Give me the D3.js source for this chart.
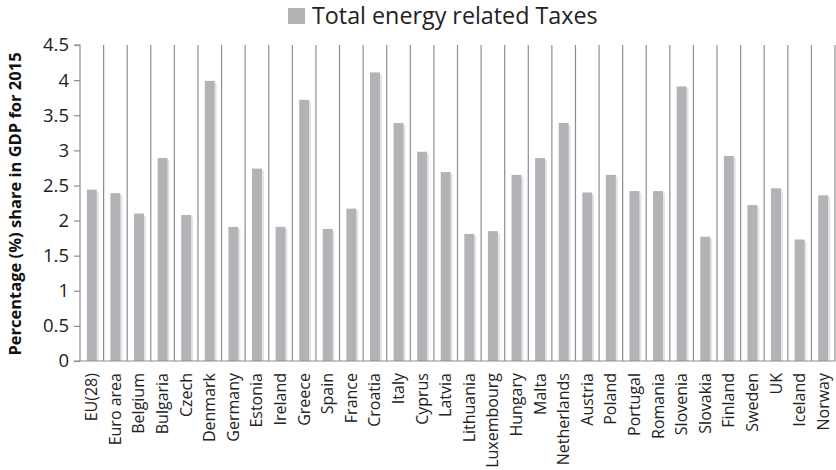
<!DOCTYPE html>
<html>
<head>
<meta charset="utf-8">
<script src="https://cdn.jsdelivr.net/npm/d3@7"></script>
<style>
  html, body { margin: 0; padding: 0; background: #fff; }
  svg { display: block; font-family: "Open Sans", sans-serif; }
</style>
</head>
<body>
<svg id="chart" width="836" height="470"></svg>
<script>
// Energy-related taxes as a share of GDP, 2015
const countries = ["EU(28)", "Euro area", "Belgium", "Bulgaria", "Czech", "Denmark", "Germany",
  "Estonia", "Ireland", "Greece", "Spain", "France", "Croatia", "Italy", "Cyprus", "Latvia",
  "Lithuania", "Luxembourg", "Hungary", "Malta", "Netherlands", "Austria", "Poland", "Portugal",
  "Romania", "Slovenia", "Slovakia", "Finland", "Sweden", "UK", "Iceland", "Norway"];
const taxShare = [2.44, 2.39, 2.10, 2.89, 2.08, 3.99, 1.91,
  2.74, 1.91, 3.72, 1.88, 2.17, 4.11, 3.39, 2.98, 2.69,
  1.81, 1.85, 2.65, 2.89, 3.39, 2.40, 2.65, 2.42,
  2.42, 3.91, 1.77, 2.92, 2.22, 2.46, 1.73, 2.36];
const yTicks = [0, 0.5, 1, 1.5, 2, 2.5, 3, 3.5, 4, 4.5];
const seriesName = "Total energy related Taxes";
const yTitle = "Percentage (%) share in GDP for 2015";

const svg = d3.select("#chart");
const plot = { left: 80, right: 835, top: 45, bottom: 361 };
const barColor = "#b2b3b7";
const gridColor = "#8e8e8e";

const x = d3.scaleBand().domain(countries).range([plot.left, plot.right]).padding(0);
const y = d3.scaleLinear().domain([0, 4.5]).range([plot.bottom, plot.top]);
const barW = x.bandwidth() * 0.42;

// vertical separators between categories
const edges = countries.map(c => x(c)).concat([plot.right]);
svg.append("g").selectAll("line").data(edges.slice(1)).join("line")
  .attr("x1", d => d).attr("x2", d => d)
  .attr("y1", y(4.5)).attr("y2", y(0))
  .attr("stroke", gridColor).attr("stroke-width", 1.2);

// soft shadow on the right side of each bar
svg.append("g").selectAll("rect").data(taxShare).join("rect")
  .attr("x", (d, i) => x(countries[i]) + (x.bandwidth() - barW) / 2 + 2)
  .attr("y", d => y(d) + 2)
  .attr("width", barW)
  .attr("height", d => y(0) - y(d) - 2)
  .attr("fill", "#e4e4e6");

// bars
svg.append("g").selectAll("rect").data(taxShare).join("rect")
  .attr("x", (d, i) => x(countries[i]) + (x.bandwidth() - barW) / 2)
  .attr("y", d => y(d))
  .attr("width", barW)
  .attr("height", d => y(0) - y(d))
  .attr("fill", barColor);

// y axis
const yAxis = svg.append("g")
  .attr("transform", `translate(${plot.left},0)`)
  .call(d3.axisLeft(y).tickValues(yTicks).tickSize(6).tickPadding(5)
    .tickFormat(d => String(d)));
yAxis.select(".domain").attr("stroke", gridColor).attr("stroke-width", 1.2)
  .attr("d", `M-6,${y(4.5)}H0V${y(0)}`);
yAxis.selectAll(".tick line").attr("stroke", gridColor).attr("stroke-width", 1.2);
yAxis.selectAll(".tick text").attr("fill", "#222").style("font-size", "18.5px")
  .style("font-family", "'Open Sans', sans-serif");

// baseline
svg.append("line")
  .attr("x1", plot.left - 6).attr("x2", plot.right)
  .attr("y1", y(0)).attr("y2", y(0))
  .attr("stroke", gridColor).attr("stroke-width", 1.2);

// category labels
svg.append("g").selectAll("text").data(countries).join("text")
  .attr("transform", d => `translate(${x(d) + x.bandwidth() / 2 + 5.5},${plot.bottom + 12}) rotate(-90)`)
  .attr("text-anchor", "end")
  .attr("fill", "#222")
  .style("font-size", "16px")
  .text(d => d);

// y axis title
svg.append("text")
  .attr("transform", `translate(21,${(plot.top + plot.bottom) / 2 + 1}) rotate(-90)`)
  .attr("text-anchor", "middle")
  .attr("fill", "#111")
  .style("font-size", "16.5px")
  .style("font-weight", "bold")
  .text(yTitle);

// legend
const legend = svg.append("g");
legend.append("rect").attr("x", 288).attr("y", 8).attr("width", 17).attr("height", 16)
  .attr("fill", barColor);
legend.append("text").attr("x", 312).attr("y", 24)
  .attr("fill", "#222").style("font-size", "23.3px")
  .text(seriesName);
</script>
</body>
</html>
